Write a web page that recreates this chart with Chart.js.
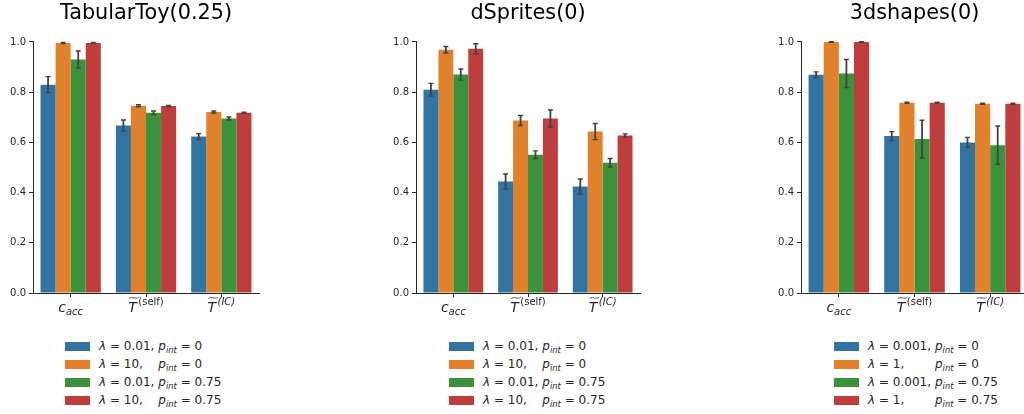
<!DOCTYPE html>
<html lang="en">
<head>
<meta charset="utf-8">
<script src="https://cdn.jsdelivr.net/npm/chart.js"></script>
<title>Bar charts</title>
<style>
  html, body { margin: 0; padding: 0; background: #fff; }
  body {
    width: 1024px; height: 414px;
    overflow: hidden; position: relative;
    font-family: 'DejaVu Sans', sans-serif;
  }
  canvas { position: absolute; top: 0; }
  .legend {
    position: absolute; top: 337px;
    font-size: 12px; color: #262626;
    border-collapse: collapse;
  }
  .legend td { padding: 0; height: 18px; white-space: nowrap; }
  .legend td.lam { padding-right: 4px; }
  .swatch { display: inline-block; width: 25px; height: 9px; margin-right: 9px; vertical-align: -1px; }
  .legend sub { font-size: 70%; vertical-align: -3px; line-height: 0; }
</style>
</head>
<body>

<canvas id="toyChart" width="270" height="330" style="left:0px"></canvas>
<canvas id="spritesChart" width="270" height="330" style="left:380px"></canvas>
<canvas id="shapesChart" width="280" height="330" style="left:760px"></canvas>

<script>
    // x tick labels (drawn as math text by the plugin below)
    const categories = [
        { base: 'c', sub: 'acc' },
        { base: 'T', tilde: true, sup: '(self)', upright: true },
        { base: 'T', tilde: true, sup: '(IC)' }
    ];
    const seriesColors = ['#3274a1', '#e1812c', '#3a923a', '#c03d3e'];

    // TabularToy(0.25): one row per series, one value per category
    const toyMeans = [[0.830, 0.667, 0.623], [0.996, 0.746, 0.721], [0.930, 0.718, 0.695], [0.996, 0.745, 0.718]];
    const toyErrs  = [[0.032, 0.022, 0.012], [0.002, 0.004, 0.004], [0.034, 0.007, 0.006], [0.002, 0.002, 0.002]];
    const toyLambdas = ['0.01', '10', '0.01', '10'];

    // dSprites(0)
    const spritesMeans = [[0.810, 0.444, 0.424], [0.969, 0.687, 0.643], [0.870, 0.551, 0.519], [0.973, 0.695, 0.627]];
    const spritesErrs  = [[0.025, 0.030, 0.030], [0.013, 0.020, 0.032], [0.022, 0.015, 0.017], [0.020, 0.034, 0.007]];
    const spritesLambdas = ['0.01', '10', '0.01', '10'];

    // 3dshapes(0)
    const shapesMeans = [[0.869, 0.625, 0.600], [1.000, 0.758, 0.754], [0.874, 0.613, 0.589], [1.000, 0.758, 0.754]];
    const shapesErrs  = [[0.012, 0.018, 0.020], [0.001, 0.002, 0.002], [0.056, 0.075, 0.076], [0.001, 0.002, 0.002]];
    const shapesLambdas = ['0.001', '1', '0.001', '1'];

    const pints = ['0', '0', '0.75', '0.75'];

    const panels = [
        { id: 'toyChart', title: 'TabularToy(0.25)', means: toyMeans, errs: toyErrs, lambdas: toyLambdas, yWidth: 33, padRight: 11, legendLeft: 65 },
        { id: 'spritesChart', title: 'dSprites(0)', means: spritesMeans, errs: spritesErrs, lambdas: spritesLambdas, yWidth: 36, padRight: 10, legendLeft: 449 },
        { id: 'shapesChart', title: '3dshapes(0)', means: shapesMeans, errs: shapesErrs, lambdas: shapesLambdas, yWidth: 41, padRight: 12, legendLeft: 834 }
    ];

    Chart.defaults.font.family = "'DejaVu Sans', sans-serif";
    const ink = '#262626';

    const errorBars = {
        id: 'errorBars',
        afterDatasetsDraw(chart) {
            const ctx = chart.ctx;
            const y = chart.scales.y;
            ctx.save();
            ctx.strokeStyle = '#424242';
            chart.data.datasets.forEach((ds, i) => {
                chart.getDatasetMeta(i).data.forEach((bar, j) => {
                    const top = y.getPixelForValue(ds.data[j] + ds.errors[j]);
                    const bot = y.getPixelForValue(ds.data[j] - ds.errors[j]);
                    ctx.lineWidth = 1.8;
                    ctx.beginPath();
                    ctx.moveTo(bar.x, top);
                    ctx.lineTo(bar.x, bot);
                    ctx.stroke();
                    ctx.lineWidth = 1.4;
                    ctx.beginPath();
                    ctx.moveTo(bar.x - 2.5, top); ctx.lineTo(bar.x + 2.5, top);
                    ctx.moveTo(bar.x - 2.5, bot); ctx.lineTo(bar.x + 2.5, bot);
                    ctx.stroke();
                });
            });
            ctx.restore();
        }
    };

    const mathTicks = {
        id: 'mathTicks',
        afterDraw(chart) {
            const ctx = chart.ctx;
            const x = chart.scales.x;
            const baseY = chart.chartArea.bottom + 19;
            const bigFont = "italic 14px 'DejaVu Sans'";
            ctx.save();
            ctx.fillStyle = ink;
            ctx.strokeStyle = ink;
            ctx.textAlign = 'left';
            ctx.textBaseline = 'alphabetic';
            categories.forEach((c, i) => {
                const script = c.sub || c.sup;
                const smallFont = (c.upright ? '' : 'italic ') + "10px 'DejaVu Sans'";
                ctx.font = bigFont;
                const wb = ctx.measureText(c.base).width;
                ctx.font = smallFont;
                const ws = ctx.measureText(script).width;
                const gap = c.sup ? 1.5 : 0;
                const x0 = x.getPixelForValue(i) - (wb + gap + ws) / 2;
                ctx.font = bigFont;
                ctx.fillText(c.base, x0, baseY);
                if (c.tilde) {
                    const tx = x0 + 1, tw = wb + 1, ty = baseY - 14.5;
                    ctx.lineWidth = 0.8;
                    ctx.beginPath();
                    ctx.moveTo(tx, ty + 1);
                    ctx.bezierCurveTo(tx + tw * 0.3, ty - 1.5, tx + tw * 0.7, ty + 2.5, tx + tw, ty - 0.5);
                    ctx.stroke();
                }
                ctx.font = smallFont;
                ctx.fillText(script, x0 + wb + gap, c.sub ? baseY + 3 : baseY - 7);
            });
            ctx.restore();
        }
    };

    panels.forEach(p => {
        new Chart(document.getElementById(p.id), {
            type: 'bar',
            data: {
                labels: categories.map(c => c.base + (c.sub || c.sup)),
                datasets: p.means.map((m, k) => ({
                    label: 'lambda = ' + p.lambdas[k] + ', p_int = ' + pints[k],
                    data: m,
                    errors: p.errs[k],
                    backgroundColor: seriesColors[k],
                    borderWidth: 0,
                    categoryPercentage: 0.8,
                    barPercentage: 1.0
                }))
            },
            options: {
                responsive: false,
                animation: false,
                layout: { padding: { left: 0, right: p.padRight, top: 0, bottom: 0 } },
                plugins: {
                    legend: { display: false },
                    tooltip: { enabled: false },
                    title: {
                        display: true,
                        text: p.title,
                        fullSize: false,
                        color: '#000',
                        font: { size: 20.8, weight: 'normal', lineHeight: 1.2 },
                        padding: { top: 1.5, bottom: 15.5 }
                    }
                },
                scales: {
                    x: {
                        grid: { offset: false, drawOnChartArea: false, drawTicks: true, tickLength: 4, color: ink },
                        border: { color: ink, width: 1 },
                        ticks: { display: false },
                        afterFit: s => { s.height = 37; }
                    },
                    y: {
                        min: 0,
                        max: 1,
                        ticks: { stepSize: 0.2, callback: v => v.toFixed(1), padding: 3, color: ink, font: { size: 10 } },
                        grid: { drawOnChartArea: false, tickLength: 4, color: ink },
                        border: { color: ink, width: 1 },
                        afterFit: s => { s.width = p.yWidth; }
                    }
                }
            },
            plugins: [errorBars, mathTicks]
        });

        // legend as HTML so the lambda / p_int math can be set properly
        const table = document.createElement('table');
        table.className = 'legend';
        table.style.left = p.legendLeft + 'px';
        p.lambdas.forEach((lam, k) => {
            const tr = document.createElement('tr');
            tr.innerHTML =
                '<td class="lam"><span class="swatch" style="background:' + seriesColors[k] + '"></span>' +
                '<i>&lambda;</i> = ' + lam + ',</td>' +
                '<td><i>p</i><sub><i>int</i></sub> = ' + pints[k] + '</td>';
            table.appendChild(tr);
        });
        document.body.appendChild(table);
    });
</script>
</body>
</html>
